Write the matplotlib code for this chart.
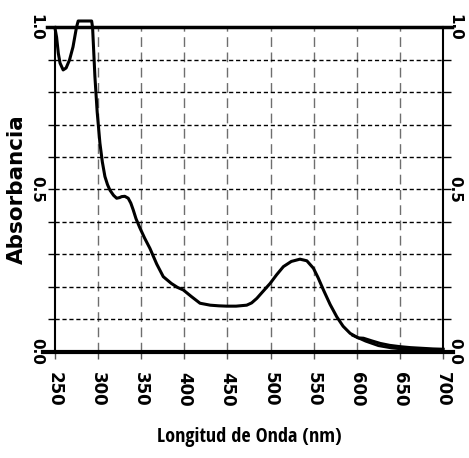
import numpy as np
import matplotlib
matplotlib.use("Agg")
import matplotlib.pyplot as plt
from matplotlib import font_manager

# ---- data ----
wavelength = [250, 252, 254, 256, 259.6, 263, 267, 271, 275, 277, 285, 292.6, 293.7,
              296.4, 299, 302.2, 305, 308, 311, 313.8, 318, 321.6, 325, 327.4, 331,
              335, 338, 340.8, 344, 348.6, 354, 360.2, 368, 375.6, 385, 392, 398.8,
              408, 418.2, 430, 440, 449, 460, 472.3, 478, 484, 491, 499.4, 507,
              514.8, 524, 534, 542, 549.6, 555, 561.2, 569, 576.7, 584, 592.2, 601.4,
              607.6, 617, 627, 638, 650, 662, 675, 688, 700]
absorbance = [1.00, 0.97, 0.92, 0.89, 0.869, 0.875, 0.90, 0.94, 1.00, 1.02, 1.02, 1.02,
              1.00, 0.848, 0.74, 0.643, 0.585, 0.54, 0.515, 0.498, 0.482, 0.473, 0.475,
              0.478, 0.479, 0.473, 0.458, 0.437, 0.41, 0.381, 0.35, 0.318, 0.27, 0.231,
              0.21, 0.198, 0.19, 0.17, 0.149, 0.143, 0.141, 0.14, 0.14, 0.143, 0.150,
              0.164, 0.185, 0.21, 0.237, 0.262, 0.278, 0.285, 0.28, 0.257, 0.228, 0.19,
              0.145, 0.107, 0.078, 0.056, 0.042, 0.041, 0.033, 0.025, 0.019, 0.015,
              0.012, 0.01, 0.008, 0.007]
noise_wl = [595, 610, 625, 640, 655, 670, 685, 698]
noise_abs = [0.050, 0.032, 0.018, 0.011, 0.007, 0.005, 0.004, 0.004]

x_ticks = [250, 300, 350, 400, 450, 500, 550, 600, 650, 700]
x_ticklabels = ["250", "300", "350", "400", "450", "500", "550", "600", "650", "700"]
y_ticks = [0.0, 0.1, 0.2, 0.3, 0.4, 0.5, 0.6, 0.7, 0.8, 0.9, 1.0]
y_ticklabels = ["0.0", "", "", "", "", "0.5", "", "", "", "", "1.0"]
x_label = "Longitud de Onda (nm)"
y_label = "Absorbancia"

# ---- pick a condensed bold font for the x label if one is installed ----
narrow_font = None
for entry in font_manager.fontManager.ttflist:
    if entry.name in ("Liberation Sans Narrow", "Roboto Condensed", "Open Sans Condensed",
                      "Arial Narrow") and entry.weight in ("bold", 700):
        narrow_font = font_manager.FontProperties(fname=entry.fname)
        break
if narrow_font is None:
    for entry in font_manager.fontManager.ttflist:
        if entry.stretch in ("condensed", "semi-condensed", 500 - 125) and \
                entry.weight in ("bold", 700) and "Sans" in entry.name:
            narrow_font = font_manager.FontProperties(fname=entry.fname)
            break
if narrow_font is None:
    narrow_font = font_manager.FontProperties(family="Liberation Sans", weight="bold")
narrow_font.set_size(14.5)

# ---- figure ----
fig = plt.figure(figsize=(4.69, 4.58), dpi=100)
ax = fig.add_axes([0.117, 0.2325, 0.828, 0.7075])

ax.set_xlim(250, 700)
ax.set_ylim(0, 1.0)

# grid
for xv in x_ticks[1:-1]:
    ax.axvline(xv, color="#6e6e6e", lw=1.0, linestyle=(0, (7, 4)), zorder=1)
for yv in y_ticks[1:-1]:
    ax.axhline(yv, color="black", lw=1.0, linestyle=(0, (3, 2)), zorder=1)

# curve
ax.plot(wavelength, absorbance, color="black", lw=2.2, clip_on=False,
        solid_joinstyle="round", zorder=3)
ax.plot(noise_wl, noise_abs, color="black", lw=2.0, clip_on=False, zorder=3)

# heavy top and bottom lines
ax.axhline(1.0, xmin=-0.02, xmax=1.023, color="black", lw=2.5, clip_on=False, zorder=2)
ax.axhline(0.0, xmin=-0.03, xmax=1.026, color="black", lw=3.0, clip_on=False, zorder=2)

for s in ["top", "bottom"]:
    ax.spines[s].set_visible(False)
for s in ["left", "right"]:
    ax.spines[s].set_linewidth(1.5)

ax.set_xticks(x_ticks)
ax.set_xticklabels(x_ticklabels, rotation=-90, fontsize=12, fontweight="bold",
                   family="DejaVu Sans")
ax.set_yticks(y_ticks)
ax.set_yticklabels(y_ticklabels)

ax.tick_params(axis="x", direction="out", length=5, width=1, color="#555555", pad=10)
ax.tick_params(axis="y", direction="out", length=5, width=1, left=True, right=False,
               labelleft=True, labelright=False, pad=3)
for t in ax.yaxis.get_major_ticks():
    lab = t.label1
    lab.set_rotation(-90)
    lab.set_va("center")
    lab.set_fontweight("bold")
    lab.set_fontsize(11)
    lab.set_family("DejaVu Sans")

# right-hand axis labels
ax2 = ax.twinx()
ax2.set_ylim(ax.get_ylim())
ax2.set_yticks(y_ticks)
ax2.set_yticklabels(y_ticklabels)
for s in ax2.spines.values():
    s.set_visible(False)
ax2.tick_params(axis="y", direction="out", length=6, width=1, pad=-3)
for t in ax2.yaxis.get_major_ticks():
    lab = t.label2
    lab.set_rotation(-90)
    lab.set_va("center")
    lab.set_fontweight("bold")
    lab.set_fontsize(11)
    lab.set_family("DejaVu Sans")

ax.set_ylabel(y_label, fontsize=15.5, fontweight="bold", family="DejaVu Sans")
ax.yaxis.set_label_coords(-0.072, 0.5)
ax.set_xlabel(x_label, fontproperties=narrow_font)
ax.xaxis.set_label_coords(0.5, -0.232)

fig.savefig("out.png", dpi=100, facecolor="white")
